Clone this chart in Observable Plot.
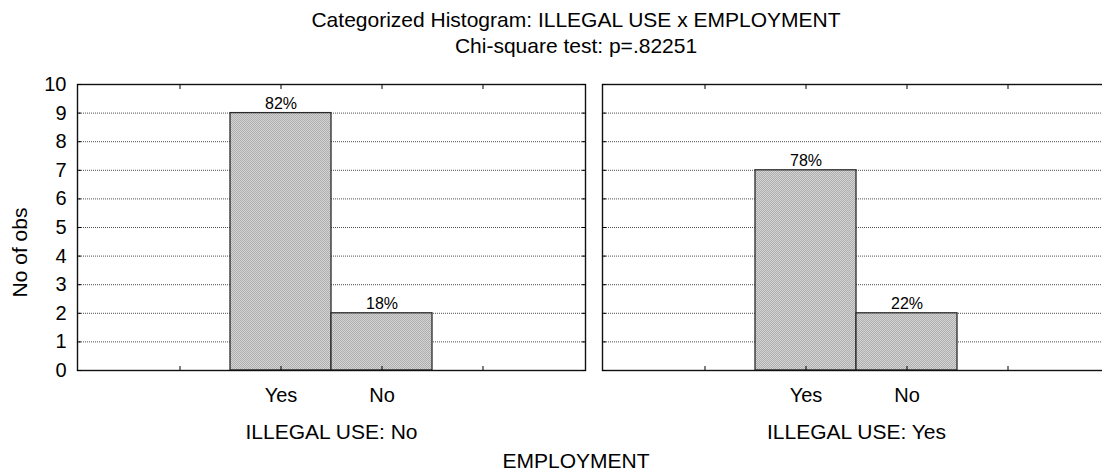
<!DOCTYPE html>
<html>
<head>
<meta charset="utf-8">
<script src="https://cdn.jsdelivr.net/npm/d3@7"></script>
<script src="https://cdn.jsdelivr.net/npm/@observablehq/plot@0.6"></script>
<style>
  html, body { margin: 0; padding: 0; background: #fff; overflow: hidden; }
  #wrap { width: 1102px; height: 472px; overflow: hidden; position: relative;
          font-family: "Liberation Sans", Arial, sans-serif; color: #000; }
  .head { width: 1152px; height: 62px; box-sizing: border-box; padding-top: 7px;
          text-align: center; font-size: 21px; line-height: 26px; }
  .foot { width: 1152px; text-align: center; font-size: 21px; line-height: 22px; }
  #chart svg { display: block; }
</style>
</head>
<body>
<svg width="0" height="0" style="position:absolute">
  <defs>
    <pattern id="checker" width="2" height="2" patternUnits="userSpaceOnUse">
      <rect width="2" height="2" fill="#d4d4d4"></rect>
      <rect width="1" height="1" fill="#aeaeae"></rect>
      <rect x="1" y="1" width="1" height="1" fill="#aeaeae"></rect>
    </pattern>
  </defs>
</svg>
<div id="wrap">
  <div class="head">
    <div>Categorized Histogram: ILLEGAL USE x EMPLOYMENT</div>
    <div>Chi-square test: p=.82251</div>
  </div>
  <div id="chart"></div>
  <div class="foot">EMPLOYMENT</div>
</div>
<script>
// Panels (ILLEGAL USE) and categories (EMPLOYMENT)
const illegalUse = ["No", "Yes"];
const employment = ["Yes", "No"];
// Counts per employment category within each panel
const countsIllegalNo = [9, 2];
const countsIllegalYes = [7, 2];
// Axis ticks
const yTicks = [0, 1, 2, 3, 4, 5, 6, 7, 8, 9, 10];
const gridTicks = [1, 2, 3, 4, 5, 6, 7, 8, 9];
const yLabel = "No of obs";

// Blank slots pad the category axis on either side
const xSlots = [" ", ...employment, "  "];

const countsByPanel = {No: countsIllegalNo, Yes: countsIllegalYes};
const rows = illegalUse.flatMap(panel => {
  const counts = countsByPanel[panel];
  const total = d3.sum(counts);
  return employment.map((emp, i) => ({
    panel, emp, count: counts[i],
    pct: Math.round(100 * counts[i] / total) + "%"
  }));
});

const blank = () => "";
const chart = Plot.plot({
  width: 1112,
  height: 388,
  marginLeft: 77,
  marginRight: 1,
  marginTop: 22,
  marginBottom: 80,
  style: {
    maxWidth: "none",
    overflow: "visible",
    fontFamily: "'Liberation Sans', Arial, sans-serif",
    fontSize: "20px",
    color: "#000",
    background: "#fff"
  },
  fx: {domain: illegalUse, paddingInner: 0.03235, paddingOuter: 0, label: null},
  x: {domain: xSlots, paddingInner: 0, paddingOuter: 0.5, label: null},
  y: {domain: [0, 10], label: null},
  marks: [
    Plot.gridY(gridTicks, {stroke: "#000", strokeOpacity: 0.7, strokeDasharray: "1,1", strokeWidth: 1}),
    Plot.barY(rows, {
      fx: "panel", x: "emp", y: "count",
      fill: "url(#checker)", stroke: "#2a2a2a", strokeWidth: 1.3
    }),
    Plot.text(rows, {
      fx: "panel", x: "emp", y: "count", text: "pct",
      lineAnchor: "bottom", dy: -4, fontSize: 16, fill: "#000"
    }),
    Plot.frame({stroke: "#111", strokeWidth: 1.4}),
    // inward tick marks on every side of each panel
    Plot.axisY(yTicks, {anchor: "left", tickSize: -4, tickFormat: blank, label: null, facetAnchor: null, stroke: "#000"}),
    Plot.axisY(yTicks, {anchor: "right", tickSize: -4, tickFormat: blank, label: null, facetAnchor: null, stroke: "#000"}),
    Plot.axisX({anchor: "bottom", tickSize: -4, tickFormat: blank, label: null, facetAnchor: null, stroke: "#000"}),
    Plot.axisX({anchor: "top", tickSize: -4, tickFormat: blank, label: null, facetAnchor: null, stroke: "#000"}),
    // tick labels
    Plot.axisY(yTicks, {anchor: "left", tickSize: 0, tickPadding: 11, label: null, fontSize: 20}),
    Plot.axisX({anchor: "bottom", tickSize: 0, tickPadding: 17, label: null, facetAnchor: null, fontSize: 20}),
    Plot.axisFx({
      anchor: "bottom", tickSize: 0, tickPadding: 54, label: null, fontSize: 21,
      tickFormat: d => `ILLEGAL USE: ${d}`
    }),
    // y-axis title, beside the first panel only
    Plot.text([yLabel], {
      fx: () => illegalUse[0], text: d => d,
      frameAnchor: "left", rotate: -90, dx: -57, dy: 25,
      textAnchor: "middle", lineAnchor: "middle", fontSize: 21, fill: "#000"
    })
  ]
});
document.getElementById("chart").append(chart);
</script>
</body>
</html>
